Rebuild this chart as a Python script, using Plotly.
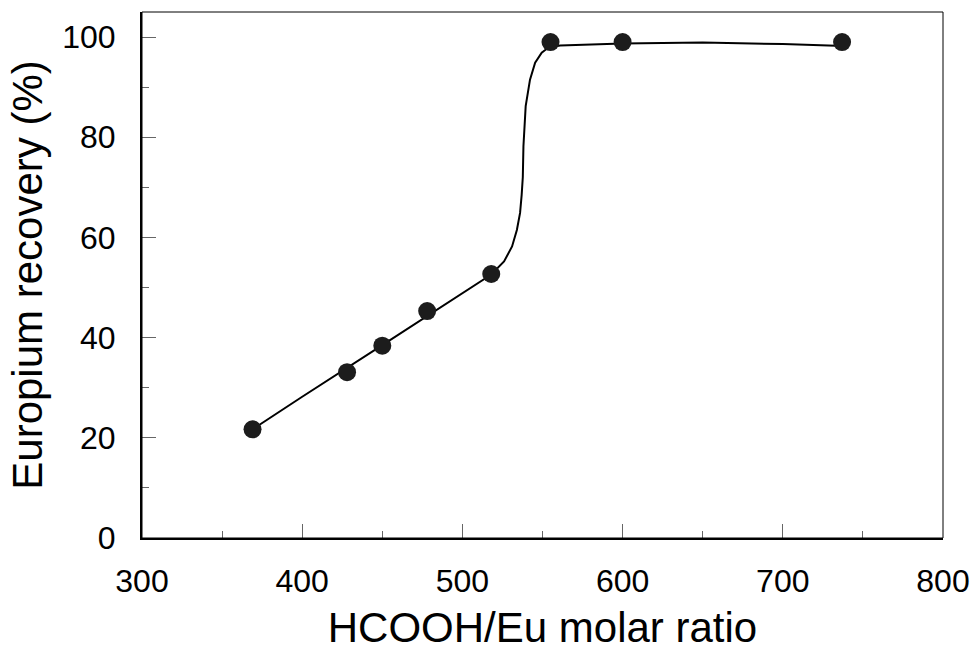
import plotly.graph_objects as go

# measured data points
ratio = [369, 428, 450, 478, 518, 555, 600, 737]
recovery = [21.7, 33.1, 38.4, 45.3, 52.7, 99.0, 99.0, 99.0]

# fitted curve
curve_x = [369, 400, 450, 500, 518, 526, 531, 534, 536, 537, 537.7, 538.1, 539.5,
           542.2, 545.4, 549.5, 553.7, 561, 600, 650, 700, 738]
curve_y = [21.7, 28.2, 38.5, 48.8, 52.6, 55.2, 58.2, 61.5, 64.9, 68.5, 72.0, 78.2, 86.2,
           91.5, 94.9, 96.9, 97.9, 98.3, 98.7, 98.9, 98.6, 98.2]

x_ticks = [300, 400, 500, 600, 700, 800]
y_ticks = [0, 20, 40, 60, 80, 100]

FONT = "Liberation Sans, Arial, sans-serif"

fig = go.Figure()
fig.add_trace(go.Scatter(x=curve_x, y=curve_y, mode="lines",
                         line=dict(color="black", width=2), hoverinfo="skip"))
fig.add_trace(go.Scatter(x=ratio, y=recovery, mode="markers",
                         marker=dict(size=18, color="#1c1c1c", line=dict(width=0))))

axis_common = dict(
    showline=True, linecolor="black", linewidth=2, showgrid=False, zeroline=False,
    ticks="inside", ticklen=14, tickwidth=1, tickcolor="#666",
    tickfont=dict(family=FONT, size=32, color="black"),
    minor=dict(ticks="inside", ticklen=7, tickwidth=1, tickcolor="#666", showgrid=False),
)

fig.update_xaxes(range=[300, 800], tickvals=x_ticks, ticktext=[str(v) for v in x_ticks],
                 minor_dtick=50, minor_tick0=300, ticklabelstandoff=14,
                 title=dict(text="HCOOH/Eu molar ratio", font=dict(family=FONT, size=42, color="black"),
                            standoff=26),
                 **axis_common)
fig.update_yaxes(range=[0, 105], tickvals=y_ticks, ticktext=[str(v) for v in y_ticks],
                 minor_dtick=10, minor_tick0=0, ticklabelstandoff=18,
                 title=dict(text="Europium recovery (%)", font=dict(family=FONT, size=42, color="black"),
                            standoff=7),
                 **axis_common)

fig.add_shape(type="rect", xref="paper", yref="paper", x0=0, x1=1, y0=0, y1=1,
              line=dict(color="black", width=1), layer="above")

fig.update_layout(
    width=976, height=651, showlegend=False,
    margin=dict(l=142, r=33, t=12, b=113, autoexpand=False),
    plot_bgcolor="white", paper_bgcolor="white",
)

fig.write_html("out.html")
